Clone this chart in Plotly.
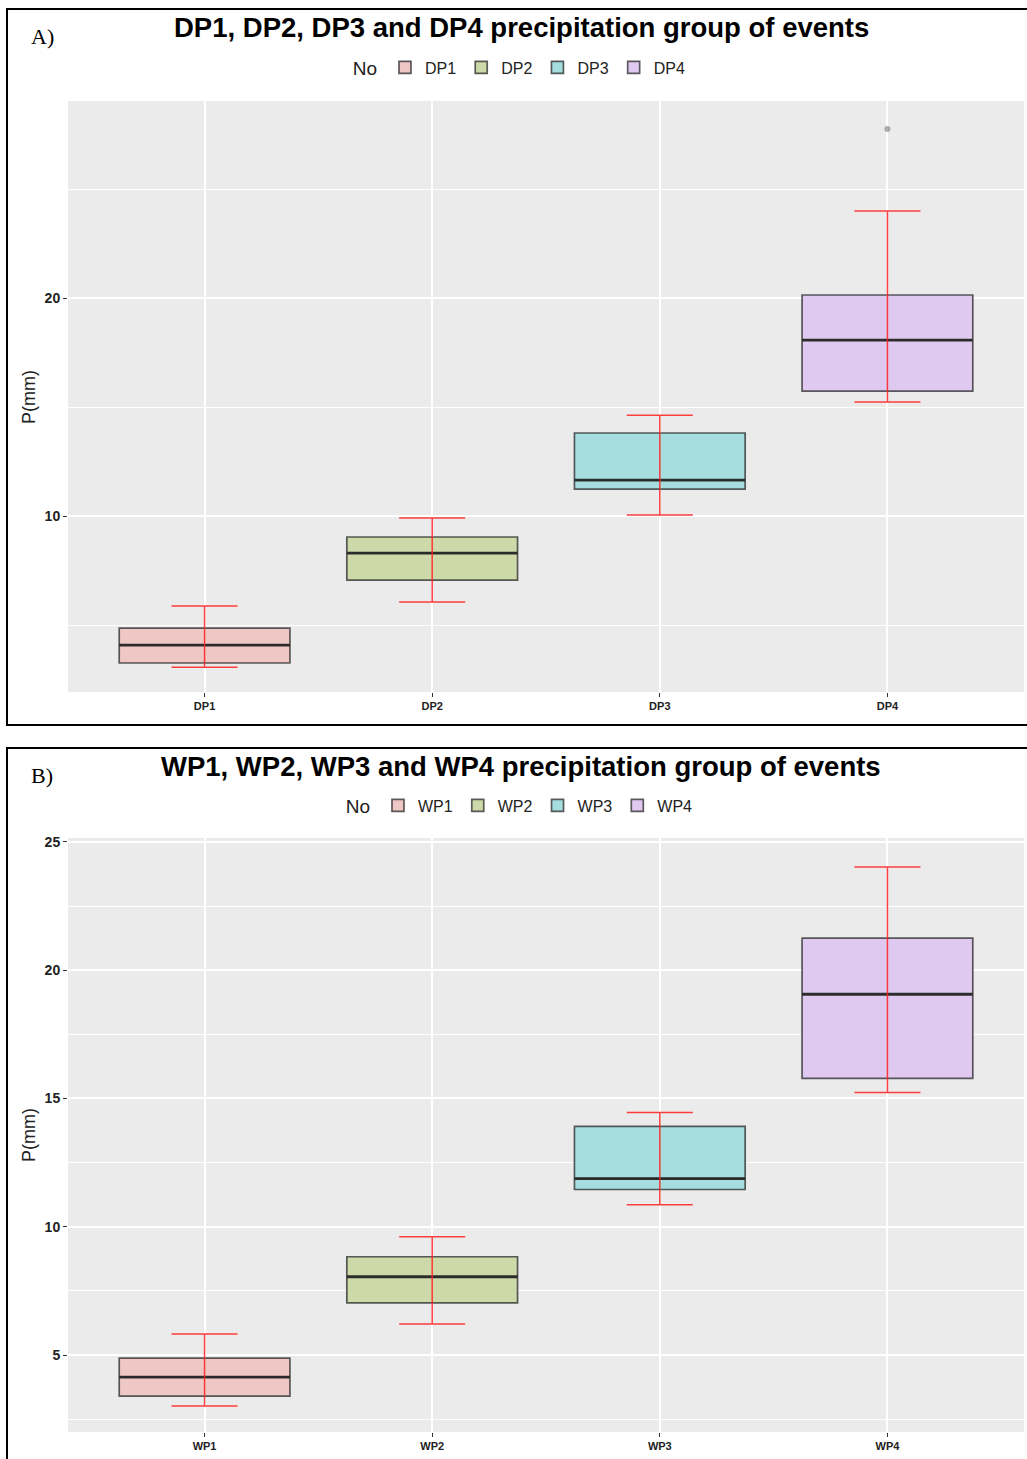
import plotly.graph_objects as go

W, H = 1027, 1459

# ---- data ----
cats_a = ["DP1", "DP2", "DP3", "DP4"]
a_low = [3.07, 6.06, 10.05, 15.23]
a_q1 = [3.26, 7.06, 11.24, 15.73]
a_med = [4.08, 8.30, 11.65, 18.07]
a_q3 = [4.86, 9.04, 13.81, 20.14]
a_high = [5.87, 9.91, 14.63, 23.99]
a_out_x = ["DP4"]
a_out_y = [27.75]

cats_b = ["WP1", "WP2", "WP3", "WP4"]
b_low = [3.01, 6.21, 10.86, 15.23]
b_q1 = [3.40, 7.03, 11.45, 15.78]
b_med = [4.14, 8.05, 11.875, 19.06]
b_q3 = [4.88, 8.83, 13.91, 21.25]
b_high = [5.82, 9.61, 14.45, 24.02]

fills = ["#EFC7C5", "#CDD9A8", "#A6DEDF", "#E0C9F0"]

def px(x):
    return x / W

def py(y):
    return 1 - y / H

fig = go.Figure()

def add_panel(cats, low, q1, med, q3, high, xa, ya, legend):
    for i, c in enumerate(cats):
        fig.add_trace(go.Box(
            x=[c], q1=[q1[i]], median=[med[i]], q3=[q3[i]],
            lowerfence=[q1[i]], upperfence=[q3[i]],
            width=0.75, fillcolor=fills[i],
            line=dict(color="rgba(40,40,40,0.75)", width=1.7),
            name=c, legend=legend, xaxis=xa, yaxis=ya,
            boxpoints=False, hoverinfo="skip",
        ))
    # thicker median lines (degenerate boxes)
    for i, c in enumerate(cats):
        fig.add_trace(go.Box(
            x=[c], q1=[med[i]], median=[med[i]], q3=[med[i]],
            lowerfence=[med[i]], upperfence=[med[i]],
            width=0.75, fillcolor="rgba(0,0,0,0)",
            line=dict(color="rgba(40,40,40,0.95)", width=2.8),
            showlegend=False, xaxis=xa, yaxis=ya,
            boxpoints=False, hoverinfo="skip",
        ))
    # red whiskers
    fig.add_trace(go.Scatter(
        x=cats, y=med, mode="markers",
        marker=dict(size=1, color="rgba(0,0,0,0)"),
        error_y=dict(type="data", symmetric=False,
                     array=[h - m for h, m in zip(high, med)],
                     arrayminus=[m - l for m, l in zip(med, low)],
                     color="rgba(255,30,30,0.85)", thickness=1.5, width=33),
        showlegend=False, xaxis=xa, yaxis=ya, hoverinfo="skip",
    ))

add_panel(cats_a, a_low, a_q1, a_med, a_q3, a_high, "x", "y", "legend")
fig.add_trace(go.Scatter(x=a_out_x, y=a_out_y, mode="markers",
                         marker=dict(size=6, color="rgba(120,120,120,0.6)"),
                         showlegend=False, xaxis="x", yaxis="y"))
add_panel(cats_b, b_low, b_q1, b_med, b_q3, b_high, "x2", "y2", "legend2")

xdom = [px(68), px(1024)]
axis_common = dict(showline=False, zeroline=False, ticks="outside", ticklen=4,
                   tickcolor="#333", tickwidth=1, gridcolor="white", gridwidth=1.6)
xcommon = dict(axis_common, type="category", range=[-0.6, 3.6],
               tickfont=dict(family="Liberation Sans", size=11, color="#222", weight="bold"))
legend_common = dict(orientation="h", x=0.507, xanchor="center", yanchor="middle",
                     title=dict(text="No", font=dict(size=19, family="Liberation Sans", color="#222")),
                     font=dict(size=16, family="Liberation Sans", color="#222"),
                     bgcolor="rgba(0,0,0,0)")
fig.update_layout(
    width=W, height=H, margin=dict(l=0, r=0, t=0, b=0, autoexpand=False),
    paper_bgcolor="white", plot_bgcolor="#EBEBEB",
    boxmode="overlay", showlegend=True,
    xaxis=dict(xcommon, domain=xdom, anchor="y"),
    yaxis=dict(axis_common, domain=[py(692), py(101)], range=[1.93, 29.04],
               tick0=0, dtick=10,
               minor=dict(dtick=5, tick0=0, showgrid=True, gridcolor="white", gridwidth=0.8),
               tickfont=dict(family="Liberation Sans", size=14, color="#222", weight="bold"),
               anchor="x"),
    xaxis2=dict(xcommon, domain=xdom, anchor="y2"),
    yaxis2=dict(axis_common, domain=[py(1432), py(838)], range=[2.0, 25.15],
                tick0=0, dtick=5,
                minor=dict(dtick=2.5, tick0=0, showgrid=True, gridcolor="white", gridwidth=0.8),
                tickfont=dict(family="Liberation Sans", size=14, color="#222", weight="bold"),
                anchor="x2"),
    legend=dict(legend_common, y=py(68)),
    legend2=dict(legend_common, y=py(806)),
)

ann = []
ann.append(dict(text="<b>DP1, DP2, DP3 and DP4 precipitation group of events</b>",
                x=px(521), y=py(28), xref="paper", yref="paper", showarrow=False,
                xanchor="center", yanchor="middle",
                font=dict(family="Liberation Sans", size=27.5, color="black")))
ann.append(dict(text="<b>WP1, WP2, WP3 and WP4 precipitation group of events</b>",
                x=px(521), y=py(766), xref="paper", yref="paper", showarrow=False,
                xanchor="center", yanchor="middle",
                font=dict(family="Liberation Sans", size=27.5, color="black")))
ann.append(dict(text="A)", x=px(42), y=py(36), xref="paper", yref="paper", showarrow=False,
                xanchor="center", yanchor="middle",
                font=dict(family="Liberation Serif", size=22, color="black")))
ann.append(dict(text="B)", x=px(42), y=py(775), xref="paper", yref="paper", showarrow=False,
                xanchor="center", yanchor="middle",
                font=dict(family="Liberation Serif", size=22, color="black")))
for yc in (397, 1135):
    ann.append(dict(text="P(mm)", x=px(29), y=py(yc), xref="paper", yref="paper",
                    showarrow=False, textangle=-90, xanchor="center", yanchor="middle",
                    font=dict(family="Liberation Sans", size=18, color="#222")))
fig.update_layout(annotations=ann)

fig.update_layout(shapes=[
    dict(type="rect", xref="paper", yref="paper", x0=px(7), x1=px(1040),
         y0=py(725), y1=py(9), line=dict(color="black", width=2)),
    dict(type="rect", xref="paper", yref="paper", x0=px(7), x1=px(1040),
         y0=py(1480), y1=py(748), line=dict(color="black", width=2)),
])

fig.write_html("out.html")
